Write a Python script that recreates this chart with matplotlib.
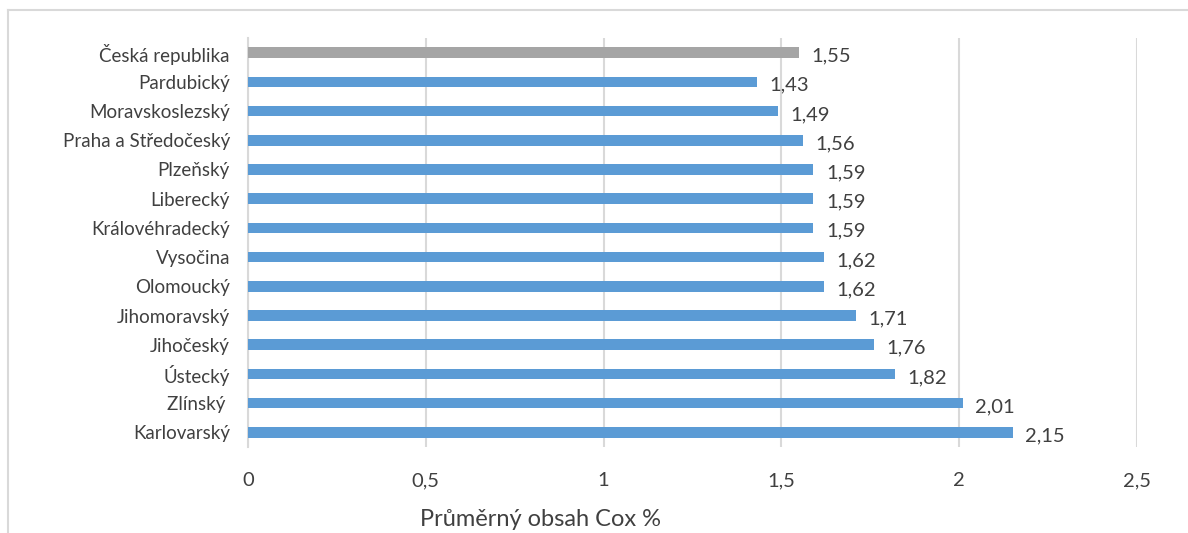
import matplotlib.pyplot as plt
from matplotlib.lines import Line2D

# data (top to bottom as shown)
regions = ['Česká republika', 'Pardubický', 'Moravskoslezský', 'Praha a Středočeský',
           'Plzeňský', 'Liberecký', 'Královéhradecký', 'Vysočina', 'Olomoucký',
           'Jihomoravský', 'Jihočeský', 'Ústecký', 'Zlínský ', 'Karlovarský']
cox = [1.55, 1.43, 1.49, 1.56, 1.59, 1.59, 1.59, 1.62, 1.62, 1.71, 1.76, 1.82, 2.01, 2.15]
xticks = [0, 0.5, 1, 1.5, 2, 2.5]
xtick_labels = ['0', '0,5', '1', '1,5', '2', '2,5']

plt.rcParams['font.family'] = ['Lato', 'DejaVu Sans']
text_col = '#404040'

fig = plt.figure(figsize=(11.88, 5.33), dpi=100)
ax = fig.add_axes([248 / 1188, 1 - 447 / 533, (1137 - 248) / 1188, (447 - 38) / 533])

colors = ['#A5A5A5'] + ['#5B9BD5'] * (len(regions) - 1)
ypos = list(range(len(regions)))
ax.barh(ypos, cox, height=0.36, color=colors, zorder=3)
ax.set_ylim(len(regions) - 0.5, -0.5)
ax.set_xlim(0, 2.5)

# value labels with decimal comma
for y, v in zip(ypos, cox):
    ax.annotate(f'{v:.2f}'.replace('.', ','), (v, y), xytext=(9, -2.5),
                textcoords='offset points', ha='left', va='center',
                fontsize=14.5, color=text_col)

ax.set_yticks(ypos)
ax.set_yticklabels(regions, fontsize=13.5, color=text_col)
ax.set_xticks(xticks)
ax.set_xticklabels(xtick_labels, fontsize=14.5, color=text_col)
ax.tick_params(length=0)
ax.tick_params(axis='x', pad=18)
ax.tick_params(axis='y', pad=13)
ax.grid(axis='x', color='#D9D9D9', linewidth=1.5, zorder=0)
for s in ['top', 'right', 'bottom']:
    ax.spines[s].set_visible(False)
ax.spines['left'].set_color('#D9D9D9')
ax.spines['left'].set_linewidth(1.5)

fig.text(540 / 1188, 1 - 520 / 533, 'Průměrný obsah Cox %', ha='center', va='center',
         fontsize=17, color=text_col)

# chart frame
fig.add_artist(Line2D([8 / 1188, 1], [1 - 10 / 533, 1 - 10 / 533], color='#D9D9D9', linewidth=1.5))
fig.add_artist(Line2D([8 / 1188, 8 / 1188], [0, 1 - 10 / 533], color='#D9D9D9', linewidth=1.5))

fig.savefig('out.png', dpi=100)
